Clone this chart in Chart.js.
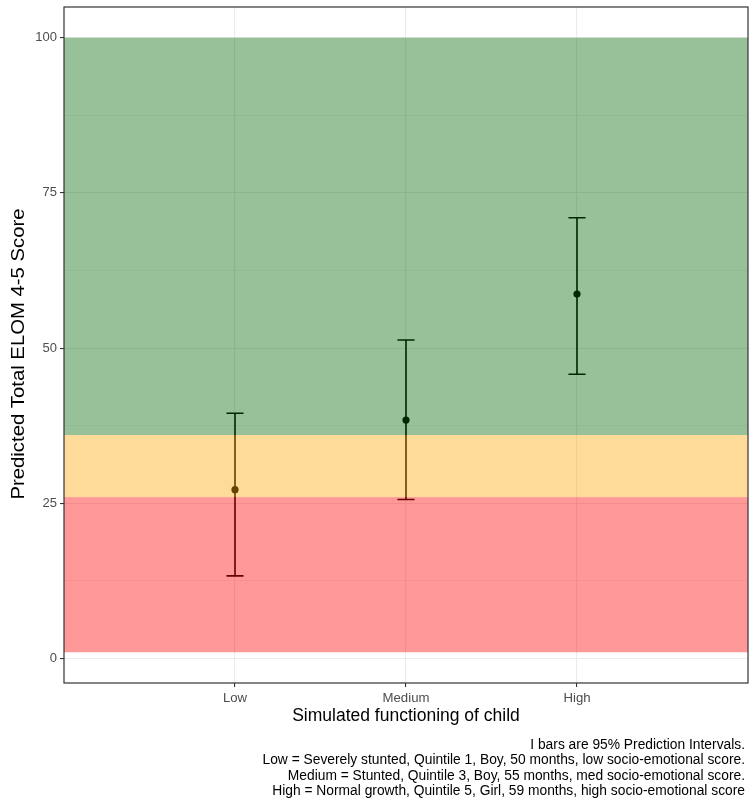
<!DOCTYPE html>
<html>
<head>
<meta charset="utf-8">
<script src="https://cdn.jsdelivr.net/npm/chart.js@4.4.1/dist/chart.umd.min.js"></script>
<style>
  body { margin: 0; background: #ffffff; }
  #wrap { width: 750px; height: 805px; position: relative; }
</style>
</head>
<body>
<div id="wrap"><canvas id="eloomChart"></canvas></div>
<script>
// data
const categories = ['Low', 'Medium', 'High'];
const xPositions = [1, 2, 3];
const predicted = [27.2, 38.4, 58.7];
const lowerPI = [13.3, 25.6, 45.8];
const upperPI = [39.5, 51.3, 71.0];

const yMajorTicks = [0, 25, 50, 75, 100];
const yMinorTicks = [12.5, 37.5, 62.5, 87.5];

// score bands (red / orange / green)
const bandFrom = [1, 26, 36];
const bandTo = [26, 36, 100];
const BAND_COLORS = ['rgba(255,0,0,0.4)', 'rgba(255,165,0,0.4)', 'rgba(0,100,0,0.4)'];

const captionLines = [
    'I bars are 95% Prediction Intervals.',
    'Low = Severely stunted, Quintile 1, Boy, 50 months, low socio-emotional score.',
    'Medium = Stunted, Quintile 3, Boy, 55 months, med socio-emotional score.',
    'High = Normal growth, Quintile 5, Girl, 59 months, high socio-emotional score'
];

const FONT = "'Liberation Sans', Arial, Helvetica, sans-serif";

function noScalePadding(scale) {
    scale.paddingTop = 0;
    scale.paddingBottom = 0;
    scale.paddingLeft = 0;
    scale.paddingRight = 0;
}

const overlayPlugin = {
    id: 'overlay',
    beforeDatasetsDraw(chart) {
        const ctx = chart.ctx;
        const xs = chart.scales.x, ys = chart.scales.y;
        ctx.save();
        ctx.strokeStyle = '#000000';
        ctx.lineWidth = 1.6;
        xPositions.forEach((xv, i) => {
            const x = xs.getPixelForValue(xv);
            const xl = xs.getPixelForValue(xv - 0.05);
            const xr = xs.getPixelForValue(xv + 0.05);
            const yLo = ys.getPixelForValue(lowerPI[i]);
            const yHi = ys.getPixelForValue(upperPI[i]);
            ctx.beginPath();
            ctx.moveTo(x, yLo); ctx.lineTo(x, yHi);
            ctx.moveTo(xl, yLo); ctx.lineTo(xr, yLo);
            ctx.moveTo(xl, yHi); ctx.lineTo(xr, yHi);
            ctx.stroke();
        });
        ctx.restore();
    },
    afterDatasetsDraw(chart) {
        const ctx = chart.ctx;
        const xs = chart.scales.x, ys = chart.scales.y;
        const area = chart.chartArea;
        ctx.save();
        // bands sit on top of the bars, as in the original
        const x0 = xs.getPixelForValue(xs.min);
        const x1 = xs.getPixelForValue(xs.max);
        bandFrom.forEach((lo, i) => {
            const yTop = ys.getPixelForValue(bandTo[i]);
            const yBot = ys.getPixelForValue(lo);
            ctx.fillStyle = BAND_COLORS[i];
            ctx.fillRect(x0, yTop, x1 - x0, yBot - yTop);
        });
        // panel border
        ctx.strokeStyle = '#333333';
        ctx.lineWidth = 1.2;
        ctx.strokeRect(area.left, area.top, area.right - area.left, area.bottom - area.top);
        ctx.restore();
    },
    afterDraw(chart) {
        const ctx = chart.ctx;
        const area = chart.chartArea;
        ctx.save();
        ctx.fillStyle = '#000000';
        ctx.font = '17.5px ' + FONT;
        ctx.textAlign = 'center';
        ctx.textBaseline = 'middle';
        ctx.fillText('Simulated functioning of child', (area.left + area.right) / 2, 716);

        ctx.save();
        ctx.translate(19, 354);
        ctx.rotate(-Math.PI / 2);
        ctx.scale(1.16, 1);
        ctx.fillText('Predicted Total ELOM 4-5 Score', 0, 0);
        ctx.restore();

        ctx.font = '13.8px ' + FONT;
        ctx.textAlign = 'right';
        captionLines.forEach((line, i) => {
            ctx.fillText(line, 745, 745 + i * 15.5);
        });
        ctx.restore();
    }
};

new Chart(document.getElementById('eloomChart'), {
    type: 'scatter',
    data: {
        datasets: [{
            label: 'Predicted score',
            data: xPositions.map((x, i) => ({ x: x, y: predicted[i] })),
            backgroundColor: '#000000',
            borderWidth: 0,
            pointRadius: 3.6
        }]
    },
    options: {
        responsive: true,
        maintainAspectRatio: false,
        animation: false,
        layout: {
            autoPadding: false,
            padding: { top: 7, right: 2, left: 0, bottom: 0 }
        },
        plugins: {
            legend: { display: false },
            tooltip: { enabled: false }
        },
        scales: {
            x: {
                type: 'linear',
                min: 0,
                max: 4,
                afterBuildTicks: (scale) => {
                    scale.ticks = xPositions.map(v => ({ value: v }));
                },
                afterFit: (scale) => { scale.height = 122; noScalePadding(scale); },
                ticks: {
                    callback: (v) => categories[xPositions.indexOf(v)],
                    color: '#4D4D4D',
                    font: { family: FONT, size: 13.2 },
                    padding: 3,
                    maxRotation: 0
                },
                grid: {
                    color: '#EBEBEB',
                    lineWidth: 1.1,
                    tickColor: '#333333',
                    tickLength: 4
                },
                border: { display: false }
            },
            y: {
                type: 'linear',
                min: -3.95,
                max: 104.95,
                afterBuildTicks: (scale) => {
                    scale.ticks = yMajorTicks.concat(yMinorTicks)
                        .sort((a, b) => a - b)
                        .map(v => ({ value: v }));
                },
                afterFit: (scale) => { scale.width = 64; noScalePadding(scale); },
                ticks: {
                    callback: (v) => yMajorTicks.includes(v) ? String(v) : '',
                    color: '#4D4D4D',
                    font: { family: FONT, size: 13 },
                    padding: 3
                },
                grid: {
                    color: '#EBEBEB',
                    lineWidth: (c) => yMajorTicks.includes(c.tick.value) ? 1.1 : 0.6,
                    tickColor: (c) => yMajorTicks.includes(c.tick.value) ? '#333333' : 'rgba(0,0,0,0)',
                    tickLength: 4
                },
                border: { display: false }
            }
        }
    },
    plugins: [overlayPlugin]
});
</script>
</body>
</html>
